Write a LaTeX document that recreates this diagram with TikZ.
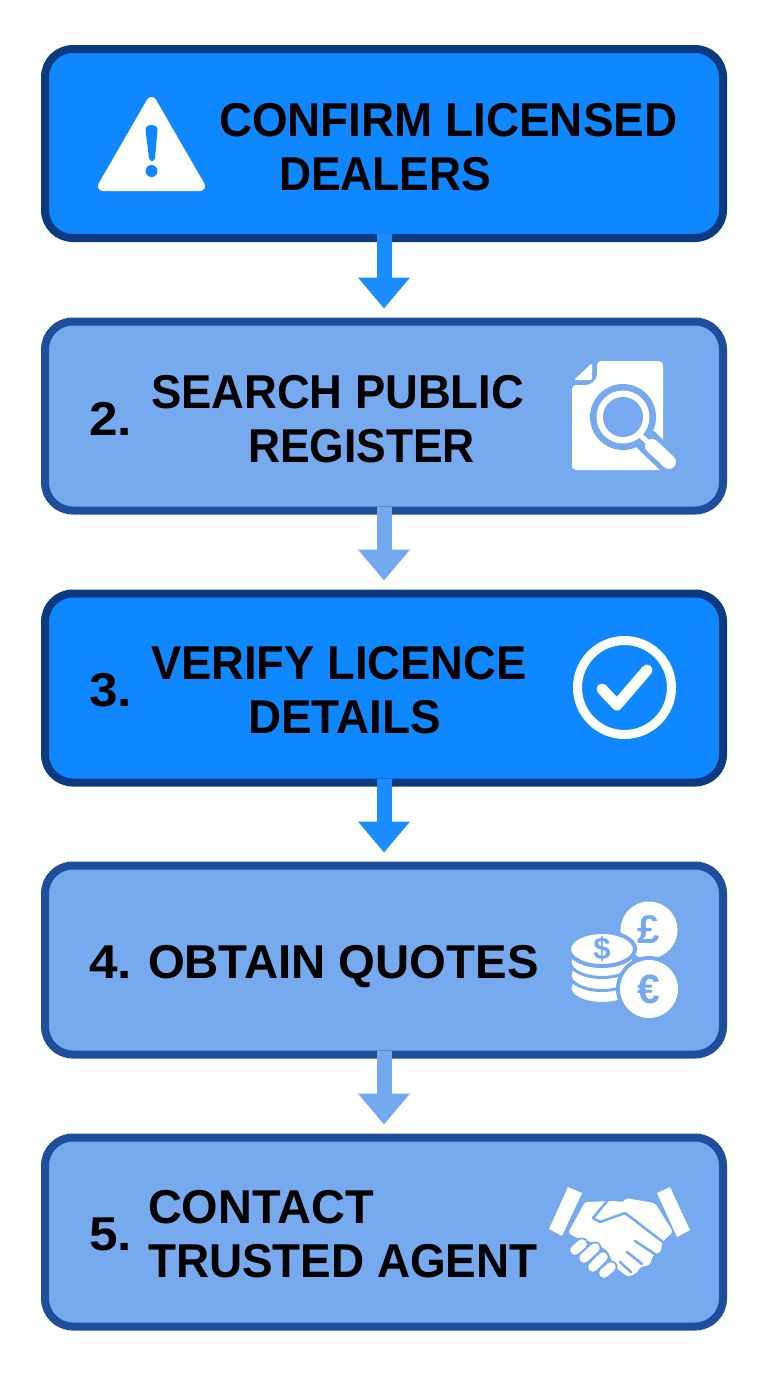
\documentclass[tikz,border=0pt]{standalone}
\usepackage{fontspec}
\setmainfont{Liberation Sans}
\newfontfamily\lab[FakeStretch=0.965]{Liberation Sans}
\newfontfamily\labn[FakeStretch=0.955]{Liberation Sans}
\newfontfamily\labs[FakeStretch=0.935]{Liberation Sans}
\newfontfamily\labw[FakeStretch=0.987]{Liberation Sans}
\newfontfamily\labq[FakeStretch=0.996]{Liberation Sans}
\newfontfamily\labd[FakeStretch=1.08]{Liberation Sans}
\usetikzlibrary{arrows.meta}
\definecolor{dfill}{HTML}{0F87FF}
\definecolor{dline}{HTML}{0B3A80}
\definecolor{lfill}{HTML}{76A9EE}
\definecolor{lline}{HTML}{1F4E9E}
\definecolor{darr}{HTML}{1A8CFF}
\definecolor{larr}{HTML}{73A8EE}
\tikzset{
 x=1pt,y=-1pt,
 box/.style={rectangle,rounded corners=28pt,line width=8pt,minimum width=678pt,minimum height=189pt,inner sep=0pt,outer sep=0pt},
 dbox/.style={box,draw=dline,fill=dfill},
 lbox/.style={box,draw=lline,fill=lfill},
 flow/.style={line width=15pt,-{Triangle[width=50pt,length=31pt]},shorten >=13pt,shorten <=-4pt},
 lab/.style={inner sep=0pt,outer sep=0pt,anchor=west,align=left,text=black,font=\lab\bfseries\fontsize{47.5}{54}\selectfont},
 num/.style={lab,anchor=base west,font=\labd\bfseries\fontsize{47.5}{54}\selectfont},
 sym/.style={inner sep=0pt,font=\bfseries\fontsize{#1}{#1}\selectfont},
}
\begin{document}
\begin{tikzpicture}
\useasboundingbox[fill=white] (0,0) rectangle (768,1376);
\node[dbox] (b1) at (384,143.5) {};
\node[lbox] (b2) at (384,416) {};
\node[dbox] (b3) at (384,688) {};
\node[lbox] (b4) at (384,960) {};
\node[lbox] (b5) at (384,1232) {};
\draw[flow,draw=darr] (b1.south) -- (b2.north);
\draw[flow,draw=larr] (b2.south) -- (b3.north);
\draw[flow,draw=darr] (b3.south) -- (b4.north);
\draw[flow,draw=larr] (b4.south) -- (b5.north);
% texts
\node[lab] (t1) at (219,147) {CONFIRM LICENSED\\\hspace*{60pt}{\labs DEALERS}};
\node[num] (n2) at (89,435) {2.};
\node[lab] (t2) at (151,419) {{\labn SEARCH PUBLIC}\\\hspace*{97pt}{\labs REGISTER}};
\node[num] (n3) at (89,706) {3.};
\node[lab] (t3) at (151,690) {{\labn VERIFY LICENCE}\\\hspace*{97pt}DETAILS};
\node[num] (n4) at (89,978) {4.};
\node[lab,anchor=base west,font=\labq\bfseries\fontsize{47.5}{54}\selectfont] (t4) at (148,978) {OBTAIN QUOTES};
\node[num] (n5) at (89,1250) {5.};
\node[lab] (t5) at (148,1234) {{\labw CONTACT}\\TRUSTED AGENT};
% warning icon
\fill[white,draw=white,line width=10pt,line join=round] (151.5,102) -- (200,186) -- (103,186) -- cycle;
\fill[dfill] (145.5,130) .. controls (145.5,123) and (157.5,123) .. (157.5,130) -- (155,158) .. controls (154.5,162) and (149.5,162) .. (149,158) -- cycle;
\fill[dfill] (151.5,171) circle (6);
% document icon
\fill[white,rounded corners=4pt] (597,361) -- (663,361) -- (663,470) -- (572,470) -- (572,385) -- (590,385) -- (597,378) -- cycle;
\fill[white,rounded corners=1.5pt] (592,363) -- (592,380) -- (574,380) -- cycle;
\fill[lfill] (623,417) circle (33);
\draw[lfill,line width=24pt,line cap=round] (646,440) -- (669,462);
\fill[white] (623,417) circle (26.5);
\fill[lfill] (623,417) circle (20);
\draw[white,line width=5pt] (641,436) -- (652,446);
\draw[white,line width=14pt,line cap=round] (652,446) -- (669,462);
% check icon
\draw[white,line width=9pt] (624.5,687.5) circle (47);
\draw[white,line width=11pt,line cap=round,line join=round] (602,689) -- (617,705) -- (647,670);
% coins icon
\fill[white] (649,930) circle (28.5);
\node[sym=40,text=lfill] (pound) at (649,930) {£};
\foreach \yy in {988,975,962}{
 \draw[lfill,line width=3pt,fill=white] (602,\yy) ellipse (32 and 15.5);
}
\draw[lfill,line width=4pt,fill=white] (602,949) ellipse (33 and 17);
\node[sym=31,text=lfill] (dollar) at (602,949) {\$};
\fill[lfill] (649,989) circle (33);
\fill[white] (649,989) circle (29);
\node[sym=41,text=lfill] (euro) at (649,989) {€};
% handshake icon
\fill[white] (568,1187) -- (582,1193) -- (562,1236) -- (549,1229) -- cycle;
\fill[white] (657,1193) -- (670,1187) -- (690,1230) -- (677,1237) -- cycle;
\fill[white,rounded corners=3pt] (585,1202) -- (613,1201) -- (625,1202) -- (625,1198) -- (655,1203) -- (673,1232) -- (662,1242) -- (661,1252) -- (653,1255) -- (650,1265) -- (640,1267) -- (637,1273) -- (628,1277) -- (615,1267) -- (607,1250) -- (592,1242) -- (577,1238) -- (568,1233) -- cycle;
\draw[lfill,line width=2.5pt,line join=round,line cap=round] (608,1200) -- (593,1218) -- (600,1222) -- (625,1213) -- (663,1242);
\draw[lfill,line width=2.5pt,line cap=round] (635,1241) -- (661,1258);
\draw[lfill,line width=2.5pt,line cap=round] (627,1252) -- (642,1264);
\draw[lfill,line width=2.5pt,line cap=round] (620,1262) -- (631,1272);
\foreach \ax/\ay/\bx/\by in {575/1250/582/1244, 584/1258/595/1248, 593/1267/603/1257, 604/1273/611/1267}{
 \draw[lfill,line width=13pt,line cap=round] (\ax,\ay) -- (\bx,\by);
 \draw[white,line width=9.5pt,line cap=round] (\ax,\ay) -- (\bx,\by);
}
\end{tikzpicture}
\end{document}
